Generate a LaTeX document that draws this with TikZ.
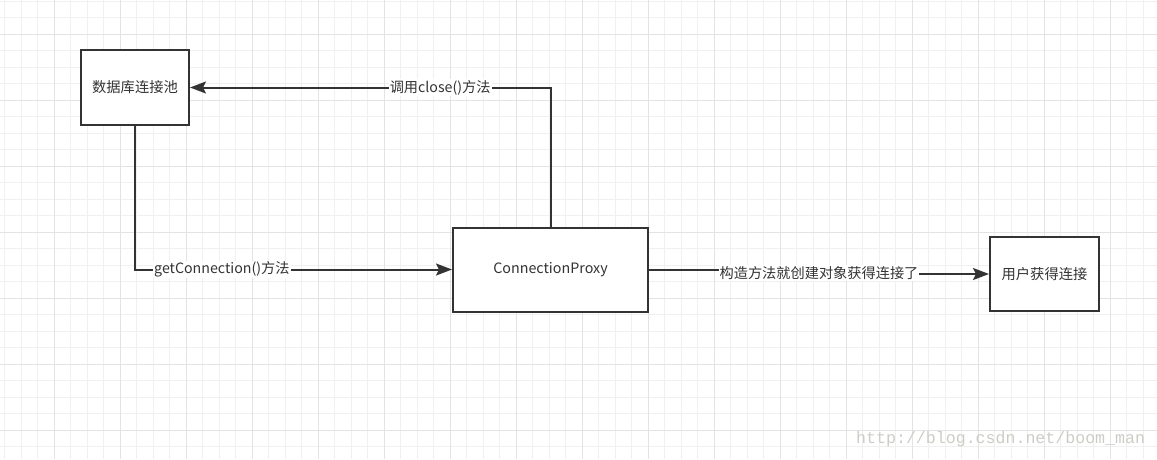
\documentclass[tikz,border=0pt]{standalone}
\usepackage{fontspec}
\newfontfamily\cjk{Noto Sans CJK SC}
\newfontfamily\wmfont{Liberation Mono}
\usetikzlibrary{arrows.meta}
\definecolor{ink}{HTML}{333333}
\definecolor{minorgrid}{HTML}{F0F0F0}
\definecolor{majorgrid}{HTML}{E3E3E3}
\definecolor{wm}{RGB}{205,205,200}
\tikzset{
  box/.style={draw=ink, line width=2pt, fill=white, font=\cjk\fontsize{14.3}{17}\selectfont, text=ink, inner sep=0pt},
  conn/.style={draw=ink, line width=2pt, -{Stealth[length=16pt,width=12pt,inset=3pt]}},
  elabel/.style={fill=white, font=\cjk\fontsize{14.2}{17}\selectfont, text=ink, inner sep=1pt}
}
\begin{document}
\begin{tikzpicture}[x=1pt,y=-1pt]
\useasboundingbox (0,0) rectangle (1157,459);
\fill[white] (0,0) rectangle (1157,459);
% grid
\foreach \i in {0,...,70} {
  \draw[minorgrid, line width=1pt] ({4.8+16.5*\i},0) -- ({4.8+16.5*\i},459);
}
\foreach \i in {0,...,28} {
  \draw[minorgrid, line width=1pt] (0,{1+16.5*\i}) -- (1157,{1+16.5*\i});
}
\foreach \i in {0,...,16} {
  \draw[majorgrid, line width=1pt] ({54.3+66*\i},0) -- ({54.3+66*\i},459);
}
\foreach \i in {0,...,6} {
  \draw[majorgrid, line width=1pt] (0,{34+66*\i}) -- (1157,{34+66*\i});
}
% nodes
\node[box, minimum width=108pt, minimum height=75pt] (db) at (135,87.5) {数据库连接池};
\node[box, minimum width=195pt, minimum height=84pt] (cp) at (550.5,269.5) {ConnectionProxy};
\node[box, minimum width=109pt, minimum height=74pt] (user) at (1044.5,274) {用户获得连接};
% connectors
\draw[conn] (db.south) |- (cp.west) node[elabel, pos=0.637] {getConnection()方法};
\draw[conn] (cp.north) |- (db.east) node[elabel, pos=0.653] {调用close()方法};
\draw[conn] (cp.east) -- ++(169,0) coordinate (mid) |- (user.west);
\node[elabel] (lbl) at (819,273) {构造方法就创建对象获得连接了};
% watermark
\node[font=\wmfont\fontsize{16.6}{18}\selectfont, text=wm, anchor=west, inner sep=0pt] (wmk) at (856,439) {http://blog.csdn.net/boom\_man};
\end{tikzpicture}
\end{document}
